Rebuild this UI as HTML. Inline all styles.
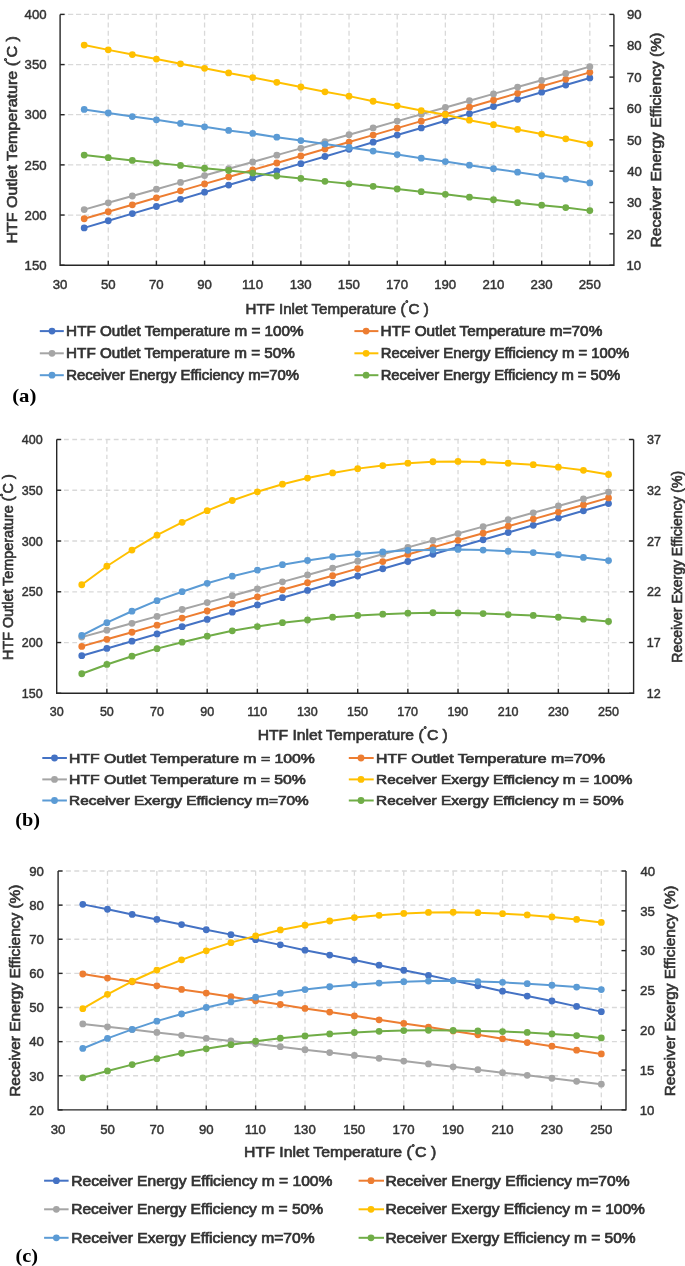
<!DOCTYPE html>
<html><head><meta charset="utf-8"><title>Charts</title>
<style>html,body{margin:0;padding:0;background:#fff;}body{width:685px;height:1266px;overflow:hidden;}svg{display:block;will-change:transform;}</style>
</head><body>
<svg width="685" height="1266" viewBox="0 0 685 1266">
<rect width="685" height="1266" fill="#fff"/>
<line x1="60.10" y1="14.40" x2="613.90" y2="14.40" stroke="#d9d9d9" stroke-width="1.3" stroke-dasharray="5.2,2.75" stroke-dashoffset="0"/>
<line x1="60.10" y1="64.56" x2="613.90" y2="64.56" stroke="#d9d9d9" stroke-width="1.3" stroke-dasharray="5.2,2.75" stroke-dashoffset="0"/>
<line x1="60.10" y1="114.72" x2="613.90" y2="114.72" stroke="#d9d9d9" stroke-width="1.3" stroke-dasharray="5.2,2.75" stroke-dashoffset="0"/>
<line x1="60.10" y1="164.88" x2="613.90" y2="164.88" stroke="#d9d9d9" stroke-width="1.3" stroke-dasharray="5.2,2.75" stroke-dashoffset="0"/>
<line x1="60.10" y1="215.04" x2="613.90" y2="215.04" stroke="#d9d9d9" stroke-width="1.3" stroke-dasharray="5.2,2.75" stroke-dashoffset="0"/>
<line x1="108.26" y1="14.40" x2="108.26" y2="265.20" stroke="#d9d9d9" stroke-width="1.3" stroke-dasharray="5,3.2"/>
<line x1="156.41" y1="14.40" x2="156.41" y2="265.20" stroke="#d9d9d9" stroke-width="1.3" stroke-dasharray="5,3.2"/>
<line x1="204.57" y1="14.40" x2="204.57" y2="265.20" stroke="#d9d9d9" stroke-width="1.3" stroke-dasharray="5,3.2"/>
<line x1="252.73" y1="14.40" x2="252.73" y2="265.20" stroke="#d9d9d9" stroke-width="1.3" stroke-dasharray="5,3.2"/>
<line x1="300.88" y1="14.40" x2="300.88" y2="265.20" stroke="#d9d9d9" stroke-width="1.3" stroke-dasharray="5,3.2"/>
<line x1="349.04" y1="14.40" x2="349.04" y2="265.20" stroke="#d9d9d9" stroke-width="1.3" stroke-dasharray="5,3.2"/>
<line x1="397.20" y1="14.40" x2="397.20" y2="265.20" stroke="#d9d9d9" stroke-width="1.3" stroke-dasharray="5,3.2"/>
<line x1="445.35" y1="14.40" x2="445.35" y2="265.20" stroke="#d9d9d9" stroke-width="1.3" stroke-dasharray="5,3.2"/>
<line x1="493.51" y1="14.40" x2="493.51" y2="265.20" stroke="#d9d9d9" stroke-width="1.3" stroke-dasharray="5,3.2"/>
<line x1="541.67" y1="14.40" x2="541.67" y2="265.20" stroke="#d9d9d9" stroke-width="1.3" stroke-dasharray="5,3.2"/>
<line x1="589.82" y1="14.40" x2="589.82" y2="265.20" stroke="#d9d9d9" stroke-width="1.3" stroke-dasharray="5,3.2"/>
<polyline points="84.18,227.91 108.26,220.76 132.33,213.62 156.41,206.48 180.49,199.34 204.57,192.20 228.65,185.06 252.73,177.92 276.80,170.78 300.88,163.63 324.96,156.49 349.04,149.35 373.12,142.21 397.20,135.07 421.27,127.93 445.35,120.79 469.43,113.65 493.51,106.50 517.59,99.36 541.67,92.22 565.74,85.08 589.82,77.94" fill="none" stroke="#4472C4" stroke-width="2" stroke-linejoin="round"/>
<circle cx="84.18" cy="227.91" r="3.4" fill="#4472C4"/>
<circle cx="108.26" cy="220.76" r="3.4" fill="#4472C4"/>
<circle cx="132.33" cy="213.62" r="3.4" fill="#4472C4"/>
<circle cx="156.41" cy="206.48" r="3.4" fill="#4472C4"/>
<circle cx="180.49" cy="199.34" r="3.4" fill="#4472C4"/>
<circle cx="204.57" cy="192.20" r="3.4" fill="#4472C4"/>
<circle cx="228.65" cy="185.06" r="3.4" fill="#4472C4"/>
<circle cx="252.73" cy="177.92" r="3.4" fill="#4472C4"/>
<circle cx="276.80" cy="170.78" r="3.4" fill="#4472C4"/>
<circle cx="300.88" cy="163.63" r="3.4" fill="#4472C4"/>
<circle cx="324.96" cy="156.49" r="3.4" fill="#4472C4"/>
<circle cx="349.04" cy="149.35" r="3.4" fill="#4472C4"/>
<circle cx="373.12" cy="142.21" r="3.4" fill="#4472C4"/>
<circle cx="397.20" cy="135.07" r="3.4" fill="#4472C4"/>
<circle cx="421.27" cy="127.93" r="3.4" fill="#4472C4"/>
<circle cx="445.35" cy="120.79" r="3.4" fill="#4472C4"/>
<circle cx="469.43" cy="113.65" r="3.4" fill="#4472C4"/>
<circle cx="493.51" cy="106.50" r="3.4" fill="#4472C4"/>
<circle cx="517.59" cy="99.36" r="3.4" fill="#4472C4"/>
<circle cx="541.67" cy="92.22" r="3.4" fill="#4472C4"/>
<circle cx="565.74" cy="85.08" r="3.4" fill="#4472C4"/>
<circle cx="589.82" cy="77.94" r="3.4" fill="#4472C4"/>
<polyline points="84.18,218.74 108.26,211.77 132.33,204.80 156.41,197.83 180.49,190.86 204.57,183.89 228.65,176.92 252.73,169.95 276.80,162.98 300.88,156.01 324.96,149.04 349.04,142.07 373.12,135.10 397.20,128.13 421.27,121.16 445.35,114.19 469.43,107.22 493.51,100.25 517.59,93.28 541.67,86.31 565.74,79.34 589.82,72.37" fill="none" stroke="#ED7D31" stroke-width="2" stroke-linejoin="round"/>
<circle cx="84.18" cy="218.74" r="3.4" fill="#ED7D31"/>
<circle cx="108.26" cy="211.77" r="3.4" fill="#ED7D31"/>
<circle cx="132.33" cy="204.80" r="3.4" fill="#ED7D31"/>
<circle cx="156.41" cy="197.83" r="3.4" fill="#ED7D31"/>
<circle cx="180.49" cy="190.86" r="3.4" fill="#ED7D31"/>
<circle cx="204.57" cy="183.89" r="3.4" fill="#ED7D31"/>
<circle cx="228.65" cy="176.92" r="3.4" fill="#ED7D31"/>
<circle cx="252.73" cy="169.95" r="3.4" fill="#ED7D31"/>
<circle cx="276.80" cy="162.98" r="3.4" fill="#ED7D31"/>
<circle cx="300.88" cy="156.01" r="3.4" fill="#ED7D31"/>
<circle cx="324.96" cy="149.04" r="3.4" fill="#ED7D31"/>
<circle cx="349.04" cy="142.07" r="3.4" fill="#ED7D31"/>
<circle cx="373.12" cy="135.10" r="3.4" fill="#ED7D31"/>
<circle cx="397.20" cy="128.13" r="3.4" fill="#ED7D31"/>
<circle cx="421.27" cy="121.16" r="3.4" fill="#ED7D31"/>
<circle cx="445.35" cy="114.19" r="3.4" fill="#ED7D31"/>
<circle cx="469.43" cy="107.22" r="3.4" fill="#ED7D31"/>
<circle cx="493.51" cy="100.25" r="3.4" fill="#ED7D31"/>
<circle cx="517.59" cy="93.28" r="3.4" fill="#ED7D31"/>
<circle cx="541.67" cy="86.31" r="3.4" fill="#ED7D31"/>
<circle cx="565.74" cy="79.34" r="3.4" fill="#ED7D31"/>
<circle cx="589.82" cy="72.37" r="3.4" fill="#ED7D31"/>
<polyline points="84.18,209.61 108.26,202.80 132.33,196.00 156.41,189.19 180.49,182.38 204.57,175.57 228.65,168.77 252.73,161.96 276.80,155.15 300.88,148.35 324.96,141.54 349.04,134.73 373.12,127.93 397.20,121.12 421.27,114.31 445.35,107.50 469.43,100.70 493.51,93.89 517.59,87.08 541.67,80.28 565.74,73.47 589.82,66.66" fill="none" stroke="#A5A5A5" stroke-width="2" stroke-linejoin="round"/>
<circle cx="84.18" cy="209.61" r="3.4" fill="#A5A5A5"/>
<circle cx="108.26" cy="202.80" r="3.4" fill="#A5A5A5"/>
<circle cx="132.33" cy="196.00" r="3.4" fill="#A5A5A5"/>
<circle cx="156.41" cy="189.19" r="3.4" fill="#A5A5A5"/>
<circle cx="180.49" cy="182.38" r="3.4" fill="#A5A5A5"/>
<circle cx="204.57" cy="175.57" r="3.4" fill="#A5A5A5"/>
<circle cx="228.65" cy="168.77" r="3.4" fill="#A5A5A5"/>
<circle cx="252.73" cy="161.96" r="3.4" fill="#A5A5A5"/>
<circle cx="276.80" cy="155.15" r="3.4" fill="#A5A5A5"/>
<circle cx="300.88" cy="148.35" r="3.4" fill="#A5A5A5"/>
<circle cx="324.96" cy="141.54" r="3.4" fill="#A5A5A5"/>
<circle cx="349.04" cy="134.73" r="3.4" fill="#A5A5A5"/>
<circle cx="373.12" cy="127.93" r="3.4" fill="#A5A5A5"/>
<circle cx="397.20" cy="121.12" r="3.4" fill="#A5A5A5"/>
<circle cx="421.27" cy="114.31" r="3.4" fill="#A5A5A5"/>
<circle cx="445.35" cy="107.50" r="3.4" fill="#A5A5A5"/>
<circle cx="469.43" cy="100.70" r="3.4" fill="#A5A5A5"/>
<circle cx="493.51" cy="93.89" r="3.4" fill="#A5A5A5"/>
<circle cx="517.59" cy="87.08" r="3.4" fill="#A5A5A5"/>
<circle cx="541.67" cy="80.28" r="3.4" fill="#A5A5A5"/>
<circle cx="565.74" cy="73.47" r="3.4" fill="#A5A5A5"/>
<circle cx="589.82" cy="66.66" r="3.4" fill="#A5A5A5"/>
<polyline points="84.18,45.05 108.26,49.86 132.33,54.57 156.41,59.08 180.49,63.80 204.57,68.32 228.65,72.90 252.73,77.58 276.80,82.31 300.88,87.00 324.96,91.84 349.04,96.13 373.12,101.23 397.20,105.83 421.27,110.54 445.35,114.75 469.43,120.16 493.51,124.73 517.59,129.45 541.67,134.08 565.74,138.81 589.82,143.79" fill="none" stroke="#FFC000" stroke-width="2" stroke-linejoin="round"/>
<circle cx="84.18" cy="45.05" r="3.4" fill="#FFC000"/>
<circle cx="108.26" cy="49.86" r="3.4" fill="#FFC000"/>
<circle cx="132.33" cy="54.57" r="3.4" fill="#FFC000"/>
<circle cx="156.41" cy="59.08" r="3.4" fill="#FFC000"/>
<circle cx="180.49" cy="63.80" r="3.4" fill="#FFC000"/>
<circle cx="204.57" cy="68.32" r="3.4" fill="#FFC000"/>
<circle cx="228.65" cy="72.90" r="3.4" fill="#FFC000"/>
<circle cx="252.73" cy="77.58" r="3.4" fill="#FFC000"/>
<circle cx="276.80" cy="82.31" r="3.4" fill="#FFC000"/>
<circle cx="300.88" cy="87.00" r="3.4" fill="#FFC000"/>
<circle cx="324.96" cy="91.84" r="3.4" fill="#FFC000"/>
<circle cx="349.04" cy="96.13" r="3.4" fill="#FFC000"/>
<circle cx="373.12" cy="101.23" r="3.4" fill="#FFC000"/>
<circle cx="397.20" cy="105.83" r="3.4" fill="#FFC000"/>
<circle cx="421.27" cy="110.54" r="3.4" fill="#FFC000"/>
<circle cx="445.35" cy="114.75" r="3.4" fill="#FFC000"/>
<circle cx="469.43" cy="120.16" r="3.4" fill="#FFC000"/>
<circle cx="493.51" cy="124.73" r="3.4" fill="#FFC000"/>
<circle cx="517.59" cy="129.45" r="3.4" fill="#FFC000"/>
<circle cx="541.67" cy="134.08" r="3.4" fill="#FFC000"/>
<circle cx="565.74" cy="138.81" r="3.4" fill="#FFC000"/>
<circle cx="589.82" cy="143.79" r="3.4" fill="#FFC000"/>
<polyline points="84.18,109.45 108.26,113.01 132.33,116.57 156.41,119.84 180.49,123.41 204.57,126.83 228.65,130.41 252.73,133.44 276.80,137.17 300.88,140.61 324.96,144.05 349.04,147.49 373.12,151.09 397.20,154.54 421.27,158.15 445.35,161.60 469.43,165.21 493.51,168.68 517.59,172.14 541.67,175.76 565.74,179.09 589.82,182.96" fill="none" stroke="#5B9BD5" stroke-width="2" stroke-linejoin="round"/>
<circle cx="84.18" cy="109.45" r="3.4" fill="#5B9BD5"/>
<circle cx="108.26" cy="113.01" r="3.4" fill="#5B9BD5"/>
<circle cx="132.33" cy="116.57" r="3.4" fill="#5B9BD5"/>
<circle cx="156.41" cy="119.84" r="3.4" fill="#5B9BD5"/>
<circle cx="180.49" cy="123.41" r="3.4" fill="#5B9BD5"/>
<circle cx="204.57" cy="126.83" r="3.4" fill="#5B9BD5"/>
<circle cx="228.65" cy="130.41" r="3.4" fill="#5B9BD5"/>
<circle cx="252.73" cy="133.44" r="3.4" fill="#5B9BD5"/>
<circle cx="276.80" cy="137.17" r="3.4" fill="#5B9BD5"/>
<circle cx="300.88" cy="140.61" r="3.4" fill="#5B9BD5"/>
<circle cx="324.96" cy="144.05" r="3.4" fill="#5B9BD5"/>
<circle cx="349.04" cy="147.49" r="3.4" fill="#5B9BD5"/>
<circle cx="373.12" cy="151.09" r="3.4" fill="#5B9BD5"/>
<circle cx="397.20" cy="154.54" r="3.4" fill="#5B9BD5"/>
<circle cx="421.27" cy="158.15" r="3.4" fill="#5B9BD5"/>
<circle cx="445.35" cy="161.60" r="3.4" fill="#5B9BD5"/>
<circle cx="469.43" cy="165.21" r="3.4" fill="#5B9BD5"/>
<circle cx="493.51" cy="168.68" r="3.4" fill="#5B9BD5"/>
<circle cx="517.59" cy="172.14" r="3.4" fill="#5B9BD5"/>
<circle cx="541.67" cy="175.76" r="3.4" fill="#5B9BD5"/>
<circle cx="565.74" cy="179.09" r="3.4" fill="#5B9BD5"/>
<circle cx="589.82" cy="182.96" r="3.4" fill="#5B9BD5"/>
<polyline points="84.18,155.07 108.26,157.71 132.33,160.44 156.41,162.89 180.49,165.38 204.57,168.23 228.65,170.48 252.73,173.09 276.80,176.00 300.88,178.46 324.96,181.37 349.04,183.84 373.12,186.36 397.20,188.99 421.27,191.67 445.35,194.30 469.43,197.19 493.51,199.73 517.59,202.67 541.67,205.16 565.74,207.56 589.82,210.62" fill="none" stroke="#70AD47" stroke-width="2" stroke-linejoin="round"/>
<circle cx="84.18" cy="155.07" r="3.4" fill="#70AD47"/>
<circle cx="108.26" cy="157.71" r="3.4" fill="#70AD47"/>
<circle cx="132.33" cy="160.44" r="3.4" fill="#70AD47"/>
<circle cx="156.41" cy="162.89" r="3.4" fill="#70AD47"/>
<circle cx="180.49" cy="165.38" r="3.4" fill="#70AD47"/>
<circle cx="204.57" cy="168.23" r="3.4" fill="#70AD47"/>
<circle cx="228.65" cy="170.48" r="3.4" fill="#70AD47"/>
<circle cx="252.73" cy="173.09" r="3.4" fill="#70AD47"/>
<circle cx="276.80" cy="176.00" r="3.4" fill="#70AD47"/>
<circle cx="300.88" cy="178.46" r="3.4" fill="#70AD47"/>
<circle cx="324.96" cy="181.37" r="3.4" fill="#70AD47"/>
<circle cx="349.04" cy="183.84" r="3.4" fill="#70AD47"/>
<circle cx="373.12" cy="186.36" r="3.4" fill="#70AD47"/>
<circle cx="397.20" cy="188.99" r="3.4" fill="#70AD47"/>
<circle cx="421.27" cy="191.67" r="3.4" fill="#70AD47"/>
<circle cx="445.35" cy="194.30" r="3.4" fill="#70AD47"/>
<circle cx="469.43" cy="197.19" r="3.4" fill="#70AD47"/>
<circle cx="493.51" cy="199.73" r="3.4" fill="#70AD47"/>
<circle cx="517.59" cy="202.67" r="3.4" fill="#70AD47"/>
<circle cx="541.67" cy="205.16" r="3.4" fill="#70AD47"/>
<circle cx="565.74" cy="207.56" r="3.4" fill="#70AD47"/>
<circle cx="589.82" cy="210.62" r="3.4" fill="#70AD47"/>
<path d="M60.10,14.40V265.20H613.90V14.40" fill="none" stroke="#262626" stroke-width="1.4"/>
<line x1="60.10" y1="14.40" x2="64.60" y2="14.40" stroke="#262626" stroke-width="1.4"/>
<line x1="60.10" y1="64.56" x2="64.60" y2="64.56" stroke="#262626" stroke-width="1.4"/>
<line x1="60.10" y1="114.72" x2="64.60" y2="114.72" stroke="#262626" stroke-width="1.4"/>
<line x1="60.10" y1="164.88" x2="64.60" y2="164.88" stroke="#262626" stroke-width="1.4"/>
<line x1="60.10" y1="215.04" x2="64.60" y2="215.04" stroke="#262626" stroke-width="1.4"/>
<line x1="60.10" y1="265.20" x2="64.60" y2="265.20" stroke="#262626" stroke-width="1.4"/>
<line x1="609.40" y1="14.40" x2="613.90" y2="14.40" stroke="#262626" stroke-width="1.4"/>
<line x1="609.40" y1="45.75" x2="613.90" y2="45.75" stroke="#262626" stroke-width="1.4"/>
<line x1="609.40" y1="77.10" x2="613.90" y2="77.10" stroke="#262626" stroke-width="1.4"/>
<line x1="609.40" y1="108.45" x2="613.90" y2="108.45" stroke="#262626" stroke-width="1.4"/>
<line x1="609.40" y1="139.80" x2="613.90" y2="139.80" stroke="#262626" stroke-width="1.4"/>
<line x1="609.40" y1="171.15" x2="613.90" y2="171.15" stroke="#262626" stroke-width="1.4"/>
<line x1="609.40" y1="202.50" x2="613.90" y2="202.50" stroke="#262626" stroke-width="1.4"/>
<line x1="609.40" y1="233.85" x2="613.90" y2="233.85" stroke="#262626" stroke-width="1.4"/>
<line x1="609.40" y1="265.20" x2="613.90" y2="265.20" stroke="#262626" stroke-width="1.4"/>
<line x1="108.26" y1="265.20" x2="108.26" y2="260.70" stroke="#262626" stroke-width="1.4"/>
<line x1="156.41" y1="265.20" x2="156.41" y2="260.70" stroke="#262626" stroke-width="1.4"/>
<line x1="204.57" y1="265.20" x2="204.57" y2="260.70" stroke="#262626" stroke-width="1.4"/>
<line x1="252.73" y1="265.20" x2="252.73" y2="260.70" stroke="#262626" stroke-width="1.4"/>
<line x1="300.88" y1="265.20" x2="300.88" y2="260.70" stroke="#262626" stroke-width="1.4"/>
<line x1="349.04" y1="265.20" x2="349.04" y2="260.70" stroke="#262626" stroke-width="1.4"/>
<line x1="397.20" y1="265.20" x2="397.20" y2="260.70" stroke="#262626" stroke-width="1.4"/>
<line x1="445.35" y1="265.20" x2="445.35" y2="260.70" stroke="#262626" stroke-width="1.4"/>
<line x1="493.51" y1="265.20" x2="493.51" y2="260.70" stroke="#262626" stroke-width="1.4"/>
<line x1="541.67" y1="265.20" x2="541.67" y2="260.70" stroke="#262626" stroke-width="1.4"/>
<line x1="589.82" y1="265.20" x2="589.82" y2="260.70" stroke="#262626" stroke-width="1.4"/>
<text x="24.62" y="19.13" font-family='"Liberation Sans", sans-serif' font-weight="normal" font-size="13.2" fill="#333333" stroke="#333333" stroke-width="0.45">400</text>
<text x="24.62" y="69.29" font-family='"Liberation Sans", sans-serif' font-weight="normal" font-size="13.2" fill="#333333" stroke="#333333" stroke-width="0.45">350</text>
<text x="24.62" y="119.45" font-family='"Liberation Sans", sans-serif' font-weight="normal" font-size="13.2" fill="#333333" stroke="#333333" stroke-width="0.45">300</text>
<text x="24.62" y="169.61" font-family='"Liberation Sans", sans-serif' font-weight="normal" font-size="13.2" fill="#333333" stroke="#333333" stroke-width="0.45">250</text>
<text x="24.62" y="219.77" font-family='"Liberation Sans", sans-serif' font-weight="normal" font-size="13.2" fill="#333333" stroke="#333333" stroke-width="0.45">200</text>
<text x="24.62" y="269.93" font-family='"Liberation Sans", sans-serif' font-weight="normal" font-size="13.2" fill="#333333" stroke="#333333" stroke-width="0.45">150</text>
<text x="626.93" y="19.13" font-family='"Liberation Sans", sans-serif' font-weight="normal" font-size="13.2" fill="#333333" stroke="#333333" stroke-width="0.45">90</text>
<text x="626.93" y="50.48" font-family='"Liberation Sans", sans-serif' font-weight="normal" font-size="13.2" fill="#333333" stroke="#333333" stroke-width="0.45">80</text>
<text x="626.87" y="81.83" font-family='"Liberation Sans", sans-serif' font-weight="normal" font-size="13.2" fill="#333333" stroke="#333333" stroke-width="0.45">70</text>
<text x="626.87" y="113.18" font-family='"Liberation Sans", sans-serif' font-weight="normal" font-size="13.2" fill="#333333" stroke="#333333" stroke-width="0.45">60</text>
<text x="627.00" y="144.53" font-family='"Liberation Sans", sans-serif' font-weight="normal" font-size="13.2" fill="#333333" stroke="#333333" stroke-width="0.45">50</text>
<text x="627.19" y="175.88" font-family='"Liberation Sans", sans-serif' font-weight="normal" font-size="13.2" fill="#333333" stroke="#333333" stroke-width="0.45">40</text>
<text x="627.00" y="207.23" font-family='"Liberation Sans", sans-serif' font-weight="normal" font-size="13.2" fill="#333333" stroke="#333333" stroke-width="0.45">30</text>
<text x="626.87" y="238.58" font-family='"Liberation Sans", sans-serif' font-weight="normal" font-size="13.2" fill="#333333" stroke="#333333" stroke-width="0.45">20</text>
<text x="626.53" y="269.93" font-family='"Liberation Sans", sans-serif' font-weight="normal" font-size="13.2" fill="#333333" stroke="#333333" stroke-width="0.45">10</text>
<text x="52.77" y="289.33" font-family='"Liberation Sans", sans-serif' font-weight="normal" font-size="13.2" fill="#333333" stroke="#333333" stroke-width="0.45">30</text>
<text x="100.93" y="289.33" font-family='"Liberation Sans", sans-serif' font-weight="normal" font-size="13.2" fill="#333333" stroke="#333333" stroke-width="0.45">50</text>
<text x="149.02" y="289.33" font-family='"Liberation Sans", sans-serif' font-weight="normal" font-size="13.2" fill="#333333" stroke="#333333" stroke-width="0.45">70</text>
<text x="197.21" y="289.33" font-family='"Liberation Sans", sans-serif' font-weight="normal" font-size="13.2" fill="#333333" stroke="#333333" stroke-width="0.45">90</text>
<text x="241.97" y="289.33" font-family='"Liberation Sans", sans-serif' font-weight="normal" font-size="13.2" fill="#333333" stroke="#333333" stroke-width="0.45">110</text>
<text x="289.66" y="289.33" font-family='"Liberation Sans", sans-serif' font-weight="normal" font-size="13.2" fill="#333333" stroke="#333333" stroke-width="0.45">130</text>
<text x="337.82" y="289.33" font-family='"Liberation Sans", sans-serif' font-weight="normal" font-size="13.2" fill="#333333" stroke="#333333" stroke-width="0.45">150</text>
<text x="385.98" y="289.33" font-family='"Liberation Sans", sans-serif' font-weight="normal" font-size="13.2" fill="#333333" stroke="#333333" stroke-width="0.45">170</text>
<text x="434.13" y="289.33" font-family='"Liberation Sans", sans-serif' font-weight="normal" font-size="13.2" fill="#333333" stroke="#333333" stroke-width="0.45">190</text>
<text x="482.45" y="289.33" font-family='"Liberation Sans", sans-serif' font-weight="normal" font-size="13.2" fill="#333333" stroke="#333333" stroke-width="0.45">210</text>
<text x="530.61" y="289.33" font-family='"Liberation Sans", sans-serif' font-weight="normal" font-size="13.2" fill="#333333" stroke="#333333" stroke-width="0.45">230</text>
<text x="578.77" y="289.33" font-family='"Liberation Sans", sans-serif' font-weight="normal" font-size="13.2" fill="#333333" stroke="#333333" stroke-width="0.45">250</text>
<text x="245.49" y="313.60" font-family='"Liberation Sans", sans-serif' font-weight="normal" font-size="13.8" fill="#333333" stroke="#333333" stroke-width="0.6" textLength="183.26" lengthAdjust="spacingAndGlyphs">HTF Inlet Temperature (<tspan font-size="8.56" dy="-5.11">˚</tspan><tspan dy="5.11">C )</tspan></text>
<text transform="translate(17.30,243.58) rotate(-90)" x="0" y="0" font-family='"Liberation Sans", sans-serif' font-weight="normal" font-size="13.8" fill="#333333" stroke="#333333" stroke-width="0.6" textLength="207.40" lengthAdjust="spacingAndGlyphs">HTF Outlet Temperature (<tspan font-size="8.56" dy="-5.11">˚</tspan><tspan dy="5.11">C )</tspan></text>
<text transform="translate(661.00,247.55) rotate(-90)" x="0" y="0" font-family='"Liberation Sans", sans-serif' font-weight="normal" font-size="13.8" fill="#333333" stroke="#333333" stroke-width="0.6" textLength="214.96" lengthAdjust="spacingAndGlyphs">Receiver Energy Efficiency (%)</text>
<line x1="39.80" y1="331.10" x2="63.80" y2="331.10" stroke="#4472C4" stroke-width="2"/>
<circle cx="52.00" cy="331.10" r="3.4" fill="#4472C4"/>
<text x="66.13" y="336.11" font-family='"Liberation Sans", sans-serif' font-weight="normal" font-size="14.0" fill="#333333" stroke="#333333" stroke-width="0.7" textLength="237.48" lengthAdjust="spacingAndGlyphs">HTF Outlet Temperature m = 100%</text>
<line x1="354.40" y1="331.10" x2="378.40" y2="331.10" stroke="#ED7D31" stroke-width="2"/>
<circle cx="366.10" cy="331.10" r="3.4" fill="#ED7D31"/>
<text x="380.62" y="336.11" font-family='"Liberation Sans", sans-serif' font-weight="normal" font-size="14.0" fill="#333333" stroke="#333333" stroke-width="0.7" textLength="221.66" lengthAdjust="spacingAndGlyphs">HTF Outlet Temperature m=70%</text>
<line x1="39.80" y1="353.30" x2="63.80" y2="353.30" stroke="#A5A5A5" stroke-width="2"/>
<circle cx="52.00" cy="353.30" r="3.4" fill="#A5A5A5"/>
<text x="66.13" y="358.31" font-family='"Liberation Sans", sans-serif' font-weight="normal" font-size="14.0" fill="#333333" stroke="#333333" stroke-width="0.7" textLength="228.66" lengthAdjust="spacingAndGlyphs">HTF Outlet Temperature m = 50%</text>
<line x1="354.40" y1="353.30" x2="378.40" y2="353.30" stroke="#FFC000" stroke-width="2"/>
<circle cx="366.10" cy="353.30" r="3.4" fill="#FFC000"/>
<text x="380.66" y="358.31" font-family='"Liberation Sans", sans-serif' font-weight="normal" font-size="14.0" fill="#333333" stroke="#333333" stroke-width="0.7" textLength="248.50" lengthAdjust="spacingAndGlyphs">Receiver Energy Efficiency m = 100%</text>
<line x1="39.80" y1="375.20" x2="63.80" y2="375.20" stroke="#5B9BD5" stroke-width="2"/>
<circle cx="52.00" cy="375.20" r="3.4" fill="#5B9BD5"/>
<text x="66.16" y="380.21" font-family='"Liberation Sans", sans-serif' font-weight="normal" font-size="14.0" fill="#333333" stroke="#333333" stroke-width="0.7" textLength="232.98" lengthAdjust="spacingAndGlyphs">Receiver Energy Efficiency m=70%</text>
<line x1="354.40" y1="375.20" x2="378.40" y2="375.20" stroke="#70AD47" stroke-width="2"/>
<circle cx="366.10" cy="375.20" r="3.4" fill="#70AD47"/>
<text x="380.67" y="380.21" font-family='"Liberation Sans", sans-serif' font-weight="normal" font-size="14.0" fill="#333333" stroke="#333333" stroke-width="0.7" textLength="239.58" lengthAdjust="spacingAndGlyphs">Receiver Energy Efficiency m = 50%</text>
<text x="12.17" y="402.00" font-family='"Liberation Serif", serif' font-weight="bold" font-size="19" fill="#000" textLength="24.19" lengthAdjust="spacingAndGlyphs">(a)</text>
<line x1="56.70" y1="439.50" x2="633.60" y2="439.50" stroke="#d9d9d9" stroke-width="1.3" stroke-dasharray="4.8,3.5" stroke-dashoffset="1.0"/>
<line x1="56.70" y1="490.26" x2="633.60" y2="490.26" stroke="#d9d9d9" stroke-width="1.3" stroke-dasharray="4.8,3.5" stroke-dashoffset="1.0"/>
<line x1="56.70" y1="541.02" x2="633.60" y2="541.02" stroke="#d9d9d9" stroke-width="1.3" stroke-dasharray="4.8,3.5" stroke-dashoffset="1.0"/>
<line x1="56.70" y1="591.78" x2="633.60" y2="591.78" stroke="#d9d9d9" stroke-width="1.3" stroke-dasharray="4.8,3.5" stroke-dashoffset="1.0"/>
<line x1="56.70" y1="642.54" x2="633.60" y2="642.54" stroke="#d9d9d9" stroke-width="1.3" stroke-dasharray="4.8,3.5" stroke-dashoffset="1.0"/>
<line x1="106.87" y1="439.50" x2="106.87" y2="693.30" stroke="#d9d9d9" stroke-width="1.3" stroke-dasharray="4.3,3.3"/>
<line x1="157.03" y1="439.50" x2="157.03" y2="693.30" stroke="#d9d9d9" stroke-width="1.3" stroke-dasharray="4.3,3.3"/>
<line x1="207.20" y1="439.50" x2="207.20" y2="693.30" stroke="#d9d9d9" stroke-width="1.3" stroke-dasharray="4.3,3.3"/>
<line x1="257.36" y1="439.50" x2="257.36" y2="693.30" stroke="#d9d9d9" stroke-width="1.3" stroke-dasharray="4.3,3.3"/>
<line x1="307.53" y1="439.50" x2="307.53" y2="693.30" stroke="#d9d9d9" stroke-width="1.3" stroke-dasharray="4.3,3.3"/>
<line x1="357.69" y1="439.50" x2="357.69" y2="693.30" stroke="#d9d9d9" stroke-width="1.3" stroke-dasharray="4.3,3.3"/>
<line x1="407.86" y1="439.50" x2="407.86" y2="693.30" stroke="#d9d9d9" stroke-width="1.3" stroke-dasharray="4.3,3.3"/>
<line x1="458.02" y1="439.50" x2="458.02" y2="693.30" stroke="#d9d9d9" stroke-width="1.3" stroke-dasharray="4.3,3.3"/>
<line x1="508.19" y1="439.50" x2="508.19" y2="693.30" stroke="#d9d9d9" stroke-width="1.3" stroke-dasharray="4.3,3.3"/>
<line x1="558.35" y1="439.50" x2="558.35" y2="693.30" stroke="#d9d9d9" stroke-width="1.3" stroke-dasharray="4.3,3.3"/>
<line x1="608.52" y1="439.50" x2="608.52" y2="693.30" stroke="#d9d9d9" stroke-width="1.3" stroke-dasharray="4.3,3.3"/>
<polyline points="81.78,655.67 106.87,648.43 131.95,641.18 157.03,633.94 182.11,626.70 207.20,619.45 232.28,612.21 257.36,604.96 282.44,597.72 307.53,590.47 332.61,583.23 357.69,575.99 382.77,568.74 407.86,561.50 432.94,554.25 458.02,547.01 483.10,539.77 508.19,532.52 533.27,525.28 558.35,518.03 583.43,510.79 608.52,503.55" fill="none" stroke="#4472C4" stroke-width="2" stroke-linejoin="round"/>
<circle cx="81.78" cy="655.67" r="3.4" fill="#4472C4"/>
<circle cx="106.87" cy="648.43" r="3.4" fill="#4472C4"/>
<circle cx="131.95" cy="641.18" r="3.4" fill="#4472C4"/>
<circle cx="157.03" cy="633.94" r="3.4" fill="#4472C4"/>
<circle cx="182.11" cy="626.70" r="3.4" fill="#4472C4"/>
<circle cx="207.20" cy="619.45" r="3.4" fill="#4472C4"/>
<circle cx="232.28" cy="612.21" r="3.4" fill="#4472C4"/>
<circle cx="257.36" cy="604.96" r="3.4" fill="#4472C4"/>
<circle cx="282.44" cy="597.72" r="3.4" fill="#4472C4"/>
<circle cx="307.53" cy="590.47" r="3.4" fill="#4472C4"/>
<circle cx="332.61" cy="583.23" r="3.4" fill="#4472C4"/>
<circle cx="357.69" cy="575.99" r="3.4" fill="#4472C4"/>
<circle cx="382.77" cy="568.74" r="3.4" fill="#4472C4"/>
<circle cx="407.86" cy="561.50" r="3.4" fill="#4472C4"/>
<circle cx="432.94" cy="554.25" r="3.4" fill="#4472C4"/>
<circle cx="458.02" cy="547.01" r="3.4" fill="#4472C4"/>
<circle cx="483.10" cy="539.77" r="3.4" fill="#4472C4"/>
<circle cx="508.19" cy="532.52" r="3.4" fill="#4472C4"/>
<circle cx="533.27" cy="525.28" r="3.4" fill="#4472C4"/>
<circle cx="558.35" cy="518.03" r="3.4" fill="#4472C4"/>
<circle cx="583.43" cy="510.79" r="3.4" fill="#4472C4"/>
<circle cx="608.52" cy="503.55" r="3.4" fill="#4472C4"/>
<polyline points="81.78,646.38 106.87,639.31 131.95,632.24 157.03,625.16 182.11,618.09 207.20,611.02 232.28,603.95 257.36,596.88 282.44,589.81 307.53,582.74 332.61,575.67 357.69,568.60 382.77,561.53 407.86,554.46 432.94,547.39 458.02,540.32 483.10,533.25 508.19,526.18 533.27,519.10 558.35,512.03 583.43,504.96 608.52,497.89" fill="none" stroke="#ED7D31" stroke-width="2" stroke-linejoin="round"/>
<circle cx="81.78" cy="646.38" r="3.4" fill="#ED7D31"/>
<circle cx="106.87" cy="639.31" r="3.4" fill="#ED7D31"/>
<circle cx="131.95" cy="632.24" r="3.4" fill="#ED7D31"/>
<circle cx="157.03" cy="625.16" r="3.4" fill="#ED7D31"/>
<circle cx="182.11" cy="618.09" r="3.4" fill="#ED7D31"/>
<circle cx="207.20" cy="611.02" r="3.4" fill="#ED7D31"/>
<circle cx="232.28" cy="603.95" r="3.4" fill="#ED7D31"/>
<circle cx="257.36" cy="596.88" r="3.4" fill="#ED7D31"/>
<circle cx="282.44" cy="589.81" r="3.4" fill="#ED7D31"/>
<circle cx="307.53" cy="582.74" r="3.4" fill="#ED7D31"/>
<circle cx="332.61" cy="575.67" r="3.4" fill="#ED7D31"/>
<circle cx="357.69" cy="568.60" r="3.4" fill="#ED7D31"/>
<circle cx="382.77" cy="561.53" r="3.4" fill="#ED7D31"/>
<circle cx="407.86" cy="554.46" r="3.4" fill="#ED7D31"/>
<circle cx="432.94" cy="547.39" r="3.4" fill="#ED7D31"/>
<circle cx="458.02" cy="540.32" r="3.4" fill="#ED7D31"/>
<circle cx="483.10" cy="533.25" r="3.4" fill="#ED7D31"/>
<circle cx="508.19" cy="526.18" r="3.4" fill="#ED7D31"/>
<circle cx="533.27" cy="519.10" r="3.4" fill="#ED7D31"/>
<circle cx="558.35" cy="512.03" r="3.4" fill="#ED7D31"/>
<circle cx="583.43" cy="504.96" r="3.4" fill="#ED7D31"/>
<circle cx="608.52" cy="497.89" r="3.4" fill="#ED7D31"/>
<polyline points="81.78,637.11 106.87,630.21 131.95,623.30 157.03,616.40 182.11,609.49 207.20,602.59 232.28,595.68 257.36,588.78 282.44,581.87 307.53,574.97 332.61,568.06 357.69,561.16 382.77,554.25 407.86,547.35 432.94,540.44 458.02,533.54 483.10,526.63 508.19,519.73 533.27,512.82 558.35,505.92 583.43,499.01 608.52,492.11" fill="none" stroke="#A5A5A5" stroke-width="2" stroke-linejoin="round"/>
<circle cx="81.78" cy="637.11" r="3.4" fill="#A5A5A5"/>
<circle cx="106.87" cy="630.21" r="3.4" fill="#A5A5A5"/>
<circle cx="131.95" cy="623.30" r="3.4" fill="#A5A5A5"/>
<circle cx="157.03" cy="616.40" r="3.4" fill="#A5A5A5"/>
<circle cx="182.11" cy="609.49" r="3.4" fill="#A5A5A5"/>
<circle cx="207.20" cy="602.59" r="3.4" fill="#A5A5A5"/>
<circle cx="232.28" cy="595.68" r="3.4" fill="#A5A5A5"/>
<circle cx="257.36" cy="588.78" r="3.4" fill="#A5A5A5"/>
<circle cx="282.44" cy="581.87" r="3.4" fill="#A5A5A5"/>
<circle cx="307.53" cy="574.97" r="3.4" fill="#A5A5A5"/>
<circle cx="332.61" cy="568.06" r="3.4" fill="#A5A5A5"/>
<circle cx="357.69" cy="561.16" r="3.4" fill="#A5A5A5"/>
<circle cx="382.77" cy="554.25" r="3.4" fill="#A5A5A5"/>
<circle cx="407.86" cy="547.35" r="3.4" fill="#A5A5A5"/>
<circle cx="432.94" cy="540.44" r="3.4" fill="#A5A5A5"/>
<circle cx="458.02" cy="533.54" r="3.4" fill="#A5A5A5"/>
<circle cx="483.10" cy="526.63" r="3.4" fill="#A5A5A5"/>
<circle cx="508.19" cy="519.73" r="3.4" fill="#A5A5A5"/>
<circle cx="533.27" cy="512.82" r="3.4" fill="#A5A5A5"/>
<circle cx="558.35" cy="505.92" r="3.4" fill="#A5A5A5"/>
<circle cx="583.43" cy="499.01" r="3.4" fill="#A5A5A5"/>
<circle cx="608.52" cy="492.11" r="3.4" fill="#A5A5A5"/>
<polyline points="81.78,584.74 106.87,566.24 131.95,550.03 157.03,535.18 182.11,522.35 207.20,510.68 232.28,500.48 257.36,491.80 282.44,484.21 307.53,478.05 332.61,472.95 357.69,468.63 382.77,465.60 407.86,463.19 432.94,461.73 458.02,461.38 483.10,461.94 508.19,463.14 533.27,464.71 558.35,467.13 583.43,470.34 608.52,474.49" fill="none" stroke="#FFC000" stroke-width="2" stroke-linejoin="round"/>
<circle cx="81.78" cy="584.74" r="3.4" fill="#FFC000"/>
<circle cx="106.87" cy="566.24" r="3.4" fill="#FFC000"/>
<circle cx="131.95" cy="550.03" r="3.4" fill="#FFC000"/>
<circle cx="157.03" cy="535.18" r="3.4" fill="#FFC000"/>
<circle cx="182.11" cy="522.35" r="3.4" fill="#FFC000"/>
<circle cx="207.20" cy="510.68" r="3.4" fill="#FFC000"/>
<circle cx="232.28" cy="500.48" r="3.4" fill="#FFC000"/>
<circle cx="257.36" cy="491.80" r="3.4" fill="#FFC000"/>
<circle cx="282.44" cy="484.21" r="3.4" fill="#FFC000"/>
<circle cx="307.53" cy="478.05" r="3.4" fill="#FFC000"/>
<circle cx="332.61" cy="472.95" r="3.4" fill="#FFC000"/>
<circle cx="357.69" cy="468.63" r="3.4" fill="#FFC000"/>
<circle cx="382.77" cy="465.60" r="3.4" fill="#FFC000"/>
<circle cx="407.86" cy="463.19" r="3.4" fill="#FFC000"/>
<circle cx="432.94" cy="461.73" r="3.4" fill="#FFC000"/>
<circle cx="458.02" cy="461.38" r="3.4" fill="#FFC000"/>
<circle cx="483.10" cy="461.94" r="3.4" fill="#FFC000"/>
<circle cx="508.19" cy="463.14" r="3.4" fill="#FFC000"/>
<circle cx="533.27" cy="464.71" r="3.4" fill="#FFC000"/>
<circle cx="558.35" cy="467.13" r="3.4" fill="#FFC000"/>
<circle cx="583.43" cy="470.34" r="3.4" fill="#FFC000"/>
<circle cx="608.52" cy="474.49" r="3.4" fill="#FFC000"/>
<polyline points="81.78,635.49 106.87,622.65 131.95,611.22 157.03,600.64 182.11,591.72 207.20,583.29 232.28,576.16 257.36,570.17 282.44,564.64 307.53,560.48 332.61,556.74 357.69,553.98 382.77,551.88 407.86,550.28 432.94,549.90 458.02,549.44 483.10,550.07 508.19,551.23 533.27,552.53 558.35,554.74 583.43,557.46 608.52,560.60" fill="none" stroke="#5B9BD5" stroke-width="2" stroke-linejoin="round"/>
<circle cx="81.78" cy="635.49" r="3.4" fill="#5B9BD5"/>
<circle cx="106.87" cy="622.65" r="3.4" fill="#5B9BD5"/>
<circle cx="131.95" cy="611.22" r="3.4" fill="#5B9BD5"/>
<circle cx="157.03" cy="600.64" r="3.4" fill="#5B9BD5"/>
<circle cx="182.11" cy="591.72" r="3.4" fill="#5B9BD5"/>
<circle cx="207.20" cy="583.29" r="3.4" fill="#5B9BD5"/>
<circle cx="232.28" cy="576.16" r="3.4" fill="#5B9BD5"/>
<circle cx="257.36" cy="570.17" r="3.4" fill="#5B9BD5"/>
<circle cx="282.44" cy="564.64" r="3.4" fill="#5B9BD5"/>
<circle cx="307.53" cy="560.48" r="3.4" fill="#5B9BD5"/>
<circle cx="332.61" cy="556.74" r="3.4" fill="#5B9BD5"/>
<circle cx="357.69" cy="553.98" r="3.4" fill="#5B9BD5"/>
<circle cx="382.77" cy="551.88" r="3.4" fill="#5B9BD5"/>
<circle cx="407.86" cy="550.28" r="3.4" fill="#5B9BD5"/>
<circle cx="432.94" cy="549.90" r="3.4" fill="#5B9BD5"/>
<circle cx="458.02" cy="549.44" r="3.4" fill="#5B9BD5"/>
<circle cx="483.10" cy="550.07" r="3.4" fill="#5B9BD5"/>
<circle cx="508.19" cy="551.23" r="3.4" fill="#5B9BD5"/>
<circle cx="533.27" cy="552.53" r="3.4" fill="#5B9BD5"/>
<circle cx="558.35" cy="554.74" r="3.4" fill="#5B9BD5"/>
<circle cx="583.43" cy="557.46" r="3.4" fill="#5B9BD5"/>
<circle cx="608.52" cy="560.60" r="3.4" fill="#5B9BD5"/>
<polyline points="81.78,673.76 106.87,664.47 131.95,656.20 157.03,648.65 182.11,642.16 207.20,636.21 232.28,630.84 257.36,626.53 282.44,622.72 307.53,619.98 332.61,617.19 357.69,615.45 382.77,614.13 407.86,613.16 432.94,612.73 458.02,612.93 483.10,613.58 508.19,614.53 533.27,615.41 558.35,617.27 583.43,619.20 608.52,621.49" fill="none" stroke="#70AD47" stroke-width="2" stroke-linejoin="round"/>
<circle cx="81.78" cy="673.76" r="3.4" fill="#70AD47"/>
<circle cx="106.87" cy="664.47" r="3.4" fill="#70AD47"/>
<circle cx="131.95" cy="656.20" r="3.4" fill="#70AD47"/>
<circle cx="157.03" cy="648.65" r="3.4" fill="#70AD47"/>
<circle cx="182.11" cy="642.16" r="3.4" fill="#70AD47"/>
<circle cx="207.20" cy="636.21" r="3.4" fill="#70AD47"/>
<circle cx="232.28" cy="630.84" r="3.4" fill="#70AD47"/>
<circle cx="257.36" cy="626.53" r="3.4" fill="#70AD47"/>
<circle cx="282.44" cy="622.72" r="3.4" fill="#70AD47"/>
<circle cx="307.53" cy="619.98" r="3.4" fill="#70AD47"/>
<circle cx="332.61" cy="617.19" r="3.4" fill="#70AD47"/>
<circle cx="357.69" cy="615.45" r="3.4" fill="#70AD47"/>
<circle cx="382.77" cy="614.13" r="3.4" fill="#70AD47"/>
<circle cx="407.86" cy="613.16" r="3.4" fill="#70AD47"/>
<circle cx="432.94" cy="612.73" r="3.4" fill="#70AD47"/>
<circle cx="458.02" cy="612.93" r="3.4" fill="#70AD47"/>
<circle cx="483.10" cy="613.58" r="3.4" fill="#70AD47"/>
<circle cx="508.19" cy="614.53" r="3.4" fill="#70AD47"/>
<circle cx="533.27" cy="615.41" r="3.4" fill="#70AD47"/>
<circle cx="558.35" cy="617.27" r="3.4" fill="#70AD47"/>
<circle cx="583.43" cy="619.20" r="3.4" fill="#70AD47"/>
<circle cx="608.52" cy="621.49" r="3.4" fill="#70AD47"/>
<path d="M56.70,439.50V693.30H633.60V439.50" fill="none" stroke="#262626" stroke-width="1.4"/>
<line x1="56.70" y1="439.50" x2="61.20" y2="439.50" stroke="#262626" stroke-width="1.4"/>
<line x1="56.70" y1="490.26" x2="61.20" y2="490.26" stroke="#262626" stroke-width="1.4"/>
<line x1="56.70" y1="541.02" x2="61.20" y2="541.02" stroke="#262626" stroke-width="1.4"/>
<line x1="56.70" y1="591.78" x2="61.20" y2="591.78" stroke="#262626" stroke-width="1.4"/>
<line x1="56.70" y1="642.54" x2="61.20" y2="642.54" stroke="#262626" stroke-width="1.4"/>
<line x1="56.70" y1="693.30" x2="61.20" y2="693.30" stroke="#262626" stroke-width="1.4"/>
<line x1="629.10" y1="439.50" x2="633.60" y2="439.50" stroke="#262626" stroke-width="1.4"/>
<line x1="629.10" y1="490.26" x2="633.60" y2="490.26" stroke="#262626" stroke-width="1.4"/>
<line x1="629.10" y1="541.02" x2="633.60" y2="541.02" stroke="#262626" stroke-width="1.4"/>
<line x1="629.10" y1="591.78" x2="633.60" y2="591.78" stroke="#262626" stroke-width="1.4"/>
<line x1="629.10" y1="642.54" x2="633.60" y2="642.54" stroke="#262626" stroke-width="1.4"/>
<line x1="629.10" y1="693.30" x2="633.60" y2="693.30" stroke="#262626" stroke-width="1.4"/>
<line x1="106.87" y1="693.30" x2="106.87" y2="688.80" stroke="#262626" stroke-width="1.4"/>
<line x1="157.03" y1="693.30" x2="157.03" y2="688.80" stroke="#262626" stroke-width="1.4"/>
<line x1="207.20" y1="693.30" x2="207.20" y2="688.80" stroke="#262626" stroke-width="1.4"/>
<line x1="257.36" y1="693.30" x2="257.36" y2="688.80" stroke="#262626" stroke-width="1.4"/>
<line x1="307.53" y1="693.30" x2="307.53" y2="688.80" stroke="#262626" stroke-width="1.4"/>
<line x1="357.69" y1="693.30" x2="357.69" y2="688.80" stroke="#262626" stroke-width="1.4"/>
<line x1="407.86" y1="693.30" x2="407.86" y2="688.80" stroke="#262626" stroke-width="1.4"/>
<line x1="458.02" y1="693.30" x2="458.02" y2="688.80" stroke="#262626" stroke-width="1.4"/>
<line x1="508.19" y1="693.30" x2="508.19" y2="688.80" stroke="#262626" stroke-width="1.4"/>
<line x1="558.35" y1="693.30" x2="558.35" y2="688.80" stroke="#262626" stroke-width="1.4"/>
<line x1="608.52" y1="693.30" x2="608.52" y2="688.80" stroke="#262626" stroke-width="1.4"/>
<text x="21.86" y="443.98" font-family='"Liberation Sans", sans-serif' font-weight="normal" font-size="12.5" fill="#333333" stroke="#333333" stroke-width="0.45">400</text>
<text x="21.86" y="494.74" font-family='"Liberation Sans", sans-serif' font-weight="normal" font-size="12.5" fill="#333333" stroke="#333333" stroke-width="0.45">350</text>
<text x="21.86" y="545.50" font-family='"Liberation Sans", sans-serif' font-weight="normal" font-size="12.5" fill="#333333" stroke="#333333" stroke-width="0.45">300</text>
<text x="21.86" y="596.25" font-family='"Liberation Sans", sans-serif' font-weight="normal" font-size="12.5" fill="#333333" stroke="#333333" stroke-width="0.45">250</text>
<text x="21.86" y="647.01" font-family='"Liberation Sans", sans-serif' font-weight="normal" font-size="12.5" fill="#333333" stroke="#333333" stroke-width="0.45">200</text>
<text x="21.86" y="697.77" font-family='"Liberation Sans", sans-serif' font-weight="normal" font-size="12.5" fill="#333333" stroke="#333333" stroke-width="0.45">150</text>
<text x="647.12" y="443.98" font-family='"Liberation Sans", sans-serif' font-weight="normal" font-size="12.5" fill="#333333" stroke="#333333" stroke-width="0.45">37</text>
<text x="647.12" y="494.74" font-family='"Liberation Sans", sans-serif' font-weight="normal" font-size="12.5" fill="#333333" stroke="#333333" stroke-width="0.45">32</text>
<text x="647.00" y="545.50" font-family='"Liberation Sans", sans-serif' font-weight="normal" font-size="12.5" fill="#333333" stroke="#333333" stroke-width="0.45">27</text>
<text x="647.00" y="596.25" font-family='"Liberation Sans", sans-serif' font-weight="normal" font-size="12.5" fill="#333333" stroke="#333333" stroke-width="0.45">22</text>
<text x="646.69" y="647.01" font-family='"Liberation Sans", sans-serif' font-weight="normal" font-size="12.5" fill="#333333" stroke="#333333" stroke-width="0.45">17</text>
<text x="646.69" y="697.77" font-family='"Liberation Sans", sans-serif' font-weight="normal" font-size="12.5" fill="#333333" stroke="#333333" stroke-width="0.45">12</text>
<text x="49.76" y="715.68" font-family='"Liberation Sans", sans-serif' font-weight="normal" font-size="12.5" fill="#333333" stroke="#333333" stroke-width="0.45">30</text>
<text x="99.93" y="715.68" font-family='"Liberation Sans", sans-serif' font-weight="normal" font-size="12.5" fill="#333333" stroke="#333333" stroke-width="0.45">50</text>
<text x="150.03" y="715.68" font-family='"Liberation Sans", sans-serif' font-weight="normal" font-size="12.5" fill="#333333" stroke="#333333" stroke-width="0.45">70</text>
<text x="200.23" y="715.68" font-family='"Liberation Sans", sans-serif' font-weight="normal" font-size="12.5" fill="#333333" stroke="#333333" stroke-width="0.45">90</text>
<text x="247.17" y="715.68" font-family='"Liberation Sans", sans-serif' font-weight="normal" font-size="12.5" fill="#333333" stroke="#333333" stroke-width="0.45">110</text>
<text x="296.90" y="715.68" font-family='"Liberation Sans", sans-serif' font-weight="normal" font-size="12.5" fill="#333333" stroke="#333333" stroke-width="0.45">130</text>
<text x="347.07" y="715.68" font-family='"Liberation Sans", sans-serif' font-weight="normal" font-size="12.5" fill="#333333" stroke="#333333" stroke-width="0.45">150</text>
<text x="397.23" y="715.68" font-family='"Liberation Sans", sans-serif' font-weight="normal" font-size="12.5" fill="#333333" stroke="#333333" stroke-width="0.45">170</text>
<text x="447.40" y="715.68" font-family='"Liberation Sans", sans-serif' font-weight="normal" font-size="12.5" fill="#333333" stroke="#333333" stroke-width="0.45">190</text>
<text x="497.72" y="715.68" font-family='"Liberation Sans", sans-serif' font-weight="normal" font-size="12.5" fill="#333333" stroke="#333333" stroke-width="0.45">210</text>
<text x="547.88" y="715.68" font-family='"Liberation Sans", sans-serif' font-weight="normal" font-size="12.5" fill="#333333" stroke="#333333" stroke-width="0.45">230</text>
<text x="598.05" y="715.68" font-family='"Liberation Sans", sans-serif' font-weight="normal" font-size="12.5" fill="#333333" stroke="#333333" stroke-width="0.45">250</text>
<text x="257.65" y="739.50" font-family='"Liberation Sans", sans-serif' font-weight="normal" font-size="13.8" fill="#333333" stroke="#333333" stroke-width="0.6" textLength="190.14" lengthAdjust="spacingAndGlyphs">HTF Inlet Temperature (<tspan font-size="8.56" dy="-5.11">˚</tspan><tspan dy="5.11">C )</tspan></text>
<text transform="translate(12.90,659.95) rotate(-90)" x="0" y="0" font-family='"Liberation Sans", sans-serif' font-weight="normal" font-size="13.8" fill="#333333" stroke="#333333" stroke-width="0.6" textLength="185.76" lengthAdjust="spacingAndGlyphs">HTF Outlet Temperature (<tspan font-size="8.56" dy="-5.11">˚</tspan><tspan dy="5.11">C )</tspan></text>
<text transform="translate(682.10,662.72) rotate(-90)" x="0" y="0" font-family='"Liberation Sans", sans-serif' font-weight="normal" font-size="13.8" fill="#333333" stroke="#333333" stroke-width="0.6" textLength="191.81" lengthAdjust="spacingAndGlyphs">Receiver Exergy Efficiency (%)</text>
<line x1="42.30" y1="758.00" x2="66.90" y2="758.00" stroke="#4472C4" stroke-width="2"/>
<circle cx="54.50" cy="758.00" r="3.4" fill="#4472C4"/>
<text x="68.99" y="762.83" font-family='"Liberation Sans", sans-serif' font-weight="normal" font-size="13.5" fill="#333333" stroke="#333333" stroke-width="0.7" textLength="245.94" lengthAdjust="spacingAndGlyphs">HTF Outlet Temperature m = 100%</text>
<line x1="348.80" y1="758.00" x2="373.70" y2="758.00" stroke="#ED7D31" stroke-width="2"/>
<circle cx="361.00" cy="758.00" r="3.4" fill="#ED7D31"/>
<text x="376.08" y="762.83" font-family='"Liberation Sans", sans-serif' font-weight="normal" font-size="13.5" fill="#333333" stroke="#333333" stroke-width="0.7" textLength="229.12" lengthAdjust="spacingAndGlyphs">HTF Outlet Temperature m=70%</text>
<line x1="42.30" y1="779.40" x2="66.90" y2="779.40" stroke="#A5A5A5" stroke-width="2"/>
<circle cx="54.50" cy="779.40" r="3.4" fill="#A5A5A5"/>
<text x="68.99" y="784.23" font-family='"Liberation Sans", sans-serif' font-weight="normal" font-size="13.5" fill="#333333" stroke="#333333" stroke-width="0.7" textLength="236.92" lengthAdjust="spacingAndGlyphs">HTF Outlet Temperature m = 50%</text>
<line x1="348.80" y1="779.40" x2="373.70" y2="779.40" stroke="#FFC000" stroke-width="2"/>
<circle cx="361.00" cy="779.40" r="3.4" fill="#FFC000"/>
<text x="376.12" y="784.23" font-family='"Liberation Sans", sans-serif' font-weight="normal" font-size="13.5" fill="#333333" stroke="#333333" stroke-width="0.7" textLength="256.34" lengthAdjust="spacingAndGlyphs">Receiver Exergy Efficiency m = 100%</text>
<line x1="42.30" y1="800.50" x2="66.90" y2="800.50" stroke="#5B9BD5" stroke-width="2"/>
<circle cx="54.50" cy="800.50" r="3.4" fill="#5B9BD5"/>
<text x="69.02" y="805.33" font-family='"Liberation Sans", sans-serif' font-weight="normal" font-size="13.5" fill="#333333" stroke="#333333" stroke-width="0.7" textLength="239.72" lengthAdjust="spacingAndGlyphs">Receiver Exergy Efficiency m=70%</text>
<line x1="348.80" y1="800.50" x2="373.70" y2="800.50" stroke="#70AD47" stroke-width="2"/>
<circle cx="361.00" cy="800.50" r="3.4" fill="#70AD47"/>
<text x="376.12" y="805.33" font-family='"Liberation Sans", sans-serif' font-weight="normal" font-size="13.5" fill="#333333" stroke="#333333" stroke-width="0.7" textLength="247.52" lengthAdjust="spacingAndGlyphs">Receiver Exergy Efficiency m = 50%</text>
<text x="15.29" y="826.40" font-family='"Liberation Serif", serif' font-weight="bold" font-size="19.5" fill="#000" textLength="24.77" lengthAdjust="spacingAndGlyphs">(b)</text>
<line x1="58.10" y1="871.00" x2="626.00" y2="871.00" stroke="#d9d9d9" stroke-width="1.3" stroke-dasharray="5.0,3.4" stroke-dashoffset="0.6"/>
<line x1="58.10" y1="905.13" x2="626.00" y2="905.13" stroke="#d9d9d9" stroke-width="1.3" stroke-dasharray="5.0,3.4" stroke-dashoffset="0.6"/>
<line x1="58.10" y1="939.26" x2="626.00" y2="939.26" stroke="#d9d9d9" stroke-width="1.3" stroke-dasharray="5.0,3.4" stroke-dashoffset="0.6"/>
<line x1="58.10" y1="973.39" x2="626.00" y2="973.39" stroke="#d9d9d9" stroke-width="1.3" stroke-dasharray="5.0,3.4" stroke-dashoffset="0.6"/>
<line x1="58.10" y1="1007.51" x2="626.00" y2="1007.51" stroke="#d9d9d9" stroke-width="1.3" stroke-dasharray="5.0,3.4" stroke-dashoffset="0.6"/>
<line x1="58.10" y1="1041.64" x2="626.00" y2="1041.64" stroke="#d9d9d9" stroke-width="1.3" stroke-dasharray="5.0,3.4" stroke-dashoffset="0.6"/>
<line x1="58.10" y1="1075.77" x2="626.00" y2="1075.77" stroke="#d9d9d9" stroke-width="1.3" stroke-dasharray="5.0,3.4" stroke-dashoffset="0.6"/>
<line x1="107.48" y1="871.00" x2="107.48" y2="1109.90" stroke="#d9d9d9" stroke-width="1.3" stroke-dasharray="4.8,3.4"/>
<line x1="156.87" y1="871.00" x2="156.87" y2="1109.90" stroke="#d9d9d9" stroke-width="1.3" stroke-dasharray="4.8,3.4"/>
<line x1="206.25" y1="871.00" x2="206.25" y2="1109.90" stroke="#d9d9d9" stroke-width="1.3" stroke-dasharray="4.8,3.4"/>
<line x1="255.63" y1="871.00" x2="255.63" y2="1109.90" stroke="#d9d9d9" stroke-width="1.3" stroke-dasharray="4.8,3.4"/>
<line x1="305.01" y1="871.00" x2="305.01" y2="1109.90" stroke="#d9d9d9" stroke-width="1.3" stroke-dasharray="4.8,3.4"/>
<line x1="354.40" y1="871.00" x2="354.40" y2="1109.90" stroke="#d9d9d9" stroke-width="1.3" stroke-dasharray="4.8,3.4"/>
<line x1="403.78" y1="871.00" x2="403.78" y2="1109.90" stroke="#d9d9d9" stroke-width="1.3" stroke-dasharray="4.8,3.4"/>
<line x1="453.16" y1="871.00" x2="453.16" y2="1109.90" stroke="#d9d9d9" stroke-width="1.3" stroke-dasharray="4.8,3.4"/>
<line x1="502.54" y1="871.00" x2="502.54" y2="1109.90" stroke="#d9d9d9" stroke-width="1.3" stroke-dasharray="4.8,3.4"/>
<line x1="551.93" y1="871.00" x2="551.93" y2="1109.90" stroke="#d9d9d9" stroke-width="1.3" stroke-dasharray="4.8,3.4"/>
<line x1="601.31" y1="871.00" x2="601.31" y2="1109.90" stroke="#d9d9d9" stroke-width="1.3" stroke-dasharray="4.8,3.4"/>
<polyline points="82.79,904.36 107.48,909.23 132.17,914.40 156.87,919.43 181.56,924.56 206.25,929.74 230.94,934.63 255.63,939.67 280.32,944.86 305.01,950.16 329.70,955.06 354.40,960.01 379.09,965.17 403.78,970.23 428.47,975.29 453.16,980.61 477.85,985.83 502.54,991.15 527.23,996.08 551.93,1001.01 576.62,1006.39 601.31,1011.63" fill="none" stroke="#4472C4" stroke-width="2" stroke-linejoin="round"/>
<circle cx="82.79" cy="904.36" r="3.4" fill="#4472C4"/>
<circle cx="107.48" cy="909.23" r="3.4" fill="#4472C4"/>
<circle cx="132.17" cy="914.40" r="3.4" fill="#4472C4"/>
<circle cx="156.87" cy="919.43" r="3.4" fill="#4472C4"/>
<circle cx="181.56" cy="924.56" r="3.4" fill="#4472C4"/>
<circle cx="206.25" cy="929.74" r="3.4" fill="#4472C4"/>
<circle cx="230.94" cy="934.63" r="3.4" fill="#4472C4"/>
<circle cx="255.63" cy="939.67" r="3.4" fill="#4472C4"/>
<circle cx="280.32" cy="944.86" r="3.4" fill="#4472C4"/>
<circle cx="305.01" cy="950.16" r="3.4" fill="#4472C4"/>
<circle cx="329.70" cy="955.06" r="3.4" fill="#4472C4"/>
<circle cx="354.40" cy="960.01" r="3.4" fill="#4472C4"/>
<circle cx="379.09" cy="965.17" r="3.4" fill="#4472C4"/>
<circle cx="403.78" cy="970.23" r="3.4" fill="#4472C4"/>
<circle cx="428.47" cy="975.29" r="3.4" fill="#4472C4"/>
<circle cx="453.16" cy="980.61" r="3.4" fill="#4472C4"/>
<circle cx="477.85" cy="985.83" r="3.4" fill="#4472C4"/>
<circle cx="502.54" cy="991.15" r="3.4" fill="#4472C4"/>
<circle cx="527.23" cy="996.08" r="3.4" fill="#4472C4"/>
<circle cx="551.93" cy="1001.01" r="3.4" fill="#4472C4"/>
<circle cx="576.62" cy="1006.39" r="3.4" fill="#4472C4"/>
<circle cx="601.31" cy="1011.63" r="3.4" fill="#4472C4"/>
<polyline points="82.79,974.01 107.48,978.10 132.17,981.74 156.87,985.83 181.56,989.43 206.25,993.07 230.94,996.76 255.63,1000.76 280.32,1004.50 305.01,1008.40 329.70,1012.10 354.40,1015.84 379.09,1019.84 403.78,1023.44 428.47,1027.04 453.16,1031.09 477.85,1034.79 502.54,1038.79 527.23,1042.54 551.93,1046.14 576.62,1050.14 601.31,1053.95" fill="none" stroke="#ED7D31" stroke-width="2" stroke-linejoin="round"/>
<circle cx="82.79" cy="974.01" r="3.4" fill="#ED7D31"/>
<circle cx="107.48" cy="978.10" r="3.4" fill="#ED7D31"/>
<circle cx="132.17" cy="981.74" r="3.4" fill="#ED7D31"/>
<circle cx="156.87" cy="985.83" r="3.4" fill="#ED7D31"/>
<circle cx="181.56" cy="989.43" r="3.4" fill="#ED7D31"/>
<circle cx="206.25" cy="993.07" r="3.4" fill="#ED7D31"/>
<circle cx="230.94" cy="996.76" r="3.4" fill="#ED7D31"/>
<circle cx="255.63" cy="1000.76" r="3.4" fill="#ED7D31"/>
<circle cx="280.32" cy="1004.50" r="3.4" fill="#ED7D31"/>
<circle cx="305.01" cy="1008.40" r="3.4" fill="#ED7D31"/>
<circle cx="329.70" cy="1012.10" r="3.4" fill="#ED7D31"/>
<circle cx="354.40" cy="1015.84" r="3.4" fill="#ED7D31"/>
<circle cx="379.09" cy="1019.84" r="3.4" fill="#ED7D31"/>
<circle cx="403.78" cy="1023.44" r="3.4" fill="#ED7D31"/>
<circle cx="428.47" cy="1027.04" r="3.4" fill="#ED7D31"/>
<circle cx="453.16" cy="1031.09" r="3.4" fill="#ED7D31"/>
<circle cx="477.85" cy="1034.79" r="3.4" fill="#ED7D31"/>
<circle cx="502.54" cy="1038.79" r="3.4" fill="#ED7D31"/>
<circle cx="527.23" cy="1042.54" r="3.4" fill="#ED7D31"/>
<circle cx="551.93" cy="1046.14" r="3.4" fill="#ED7D31"/>
<circle cx="576.62" cy="1050.14" r="3.4" fill="#ED7D31"/>
<circle cx="601.31" cy="1053.95" r="3.4" fill="#ED7D31"/>
<polyline points="82.79,1023.97 107.48,1026.84 132.17,1029.56 156.87,1032.44 181.56,1035.31 206.25,1038.29 230.94,1040.91 255.63,1043.79 280.32,1046.67 305.01,1049.65 329.70,1052.53 354.40,1055.42 379.09,1058.30 403.78,1061.04 428.47,1063.92 453.16,1066.81 477.85,1069.70 502.54,1072.69 527.23,1075.33 551.93,1078.23 576.62,1081.32 601.31,1084.16" fill="none" stroke="#A5A5A5" stroke-width="2" stroke-linejoin="round"/>
<circle cx="82.79" cy="1023.97" r="3.4" fill="#A5A5A5"/>
<circle cx="107.48" cy="1026.84" r="3.4" fill="#A5A5A5"/>
<circle cx="132.17" cy="1029.56" r="3.4" fill="#A5A5A5"/>
<circle cx="156.87" cy="1032.44" r="3.4" fill="#A5A5A5"/>
<circle cx="181.56" cy="1035.31" r="3.4" fill="#A5A5A5"/>
<circle cx="206.25" cy="1038.29" r="3.4" fill="#A5A5A5"/>
<circle cx="230.94" cy="1040.91" r="3.4" fill="#A5A5A5"/>
<circle cx="255.63" cy="1043.79" r="3.4" fill="#A5A5A5"/>
<circle cx="280.32" cy="1046.67" r="3.4" fill="#A5A5A5"/>
<circle cx="305.01" cy="1049.65" r="3.4" fill="#A5A5A5"/>
<circle cx="329.70" cy="1052.53" r="3.4" fill="#A5A5A5"/>
<circle cx="354.40" cy="1055.42" r="3.4" fill="#A5A5A5"/>
<circle cx="379.09" cy="1058.30" r="3.4" fill="#A5A5A5"/>
<circle cx="403.78" cy="1061.04" r="3.4" fill="#A5A5A5"/>
<circle cx="428.47" cy="1063.92" r="3.4" fill="#A5A5A5"/>
<circle cx="453.16" cy="1066.81" r="3.4" fill="#A5A5A5"/>
<circle cx="477.85" cy="1069.70" r="3.4" fill="#A5A5A5"/>
<circle cx="502.54" cy="1072.69" r="3.4" fill="#A5A5A5"/>
<circle cx="527.23" cy="1075.33" r="3.4" fill="#A5A5A5"/>
<circle cx="551.93" cy="1078.23" r="3.4" fill="#A5A5A5"/>
<circle cx="576.62" cy="1081.32" r="3.4" fill="#A5A5A5"/>
<circle cx="601.31" cy="1084.16" r="3.4" fill="#A5A5A5"/>
<polyline points="82.79,1008.66 107.48,994.30 132.17,981.27 156.87,970.03 181.56,959.82 206.25,950.81 230.94,942.65 255.63,935.91 280.32,929.96 305.01,925.23 329.70,920.98 354.40,917.60 379.09,915.32 403.78,913.42 428.47,912.42 453.16,912.27 477.85,912.69 502.54,913.71 527.23,914.96 551.93,916.91 576.62,919.39 601.31,922.42" fill="none" stroke="#FFC000" stroke-width="2" stroke-linejoin="round"/>
<circle cx="82.79" cy="1008.66" r="3.4" fill="#FFC000"/>
<circle cx="107.48" cy="994.30" r="3.4" fill="#FFC000"/>
<circle cx="132.17" cy="981.27" r="3.4" fill="#FFC000"/>
<circle cx="156.87" cy="970.03" r="3.4" fill="#FFC000"/>
<circle cx="181.56" cy="959.82" r="3.4" fill="#FFC000"/>
<circle cx="206.25" cy="950.81" r="3.4" fill="#FFC000"/>
<circle cx="230.94" cy="942.65" r="3.4" fill="#FFC000"/>
<circle cx="255.63" cy="935.91" r="3.4" fill="#FFC000"/>
<circle cx="280.32" cy="929.96" r="3.4" fill="#FFC000"/>
<circle cx="305.01" cy="925.23" r="3.4" fill="#FFC000"/>
<circle cx="329.70" cy="920.98" r="3.4" fill="#FFC000"/>
<circle cx="354.40" cy="917.60" r="3.4" fill="#FFC000"/>
<circle cx="379.09" cy="915.32" r="3.4" fill="#FFC000"/>
<circle cx="403.78" cy="913.42" r="3.4" fill="#FFC000"/>
<circle cx="428.47" cy="912.42" r="3.4" fill="#FFC000"/>
<circle cx="453.16" cy="912.27" r="3.4" fill="#FFC000"/>
<circle cx="477.85" cy="912.69" r="3.4" fill="#FFC000"/>
<circle cx="502.54" cy="913.71" r="3.4" fill="#FFC000"/>
<circle cx="527.23" cy="914.96" r="3.4" fill="#FFC000"/>
<circle cx="551.93" cy="916.91" r="3.4" fill="#FFC000"/>
<circle cx="576.62" cy="919.39" r="3.4" fill="#FFC000"/>
<circle cx="601.31" cy="922.42" r="3.4" fill="#FFC000"/>
<polyline points="82.79,1048.45 107.48,1038.38 132.17,1029.39 156.87,1021.13 181.56,1013.98 206.25,1007.50 230.94,1001.96 255.63,997.20 280.32,993.13 305.01,989.55 329.70,986.73 354.40,984.66 379.09,983.04 403.78,981.73 428.47,981.04 453.16,980.85 477.85,981.59 502.54,982.36 527.23,983.69 551.93,985.26 576.62,987.11 601.31,989.57" fill="none" stroke="#5B9BD5" stroke-width="2" stroke-linejoin="round"/>
<circle cx="82.79" cy="1048.45" r="3.4" fill="#5B9BD5"/>
<circle cx="107.48" cy="1038.38" r="3.4" fill="#5B9BD5"/>
<circle cx="132.17" cy="1029.39" r="3.4" fill="#5B9BD5"/>
<circle cx="156.87" cy="1021.13" r="3.4" fill="#5B9BD5"/>
<circle cx="181.56" cy="1013.98" r="3.4" fill="#5B9BD5"/>
<circle cx="206.25" cy="1007.50" r="3.4" fill="#5B9BD5"/>
<circle cx="230.94" cy="1001.96" r="3.4" fill="#5B9BD5"/>
<circle cx="255.63" cy="997.20" r="3.4" fill="#5B9BD5"/>
<circle cx="280.32" cy="993.13" r="3.4" fill="#5B9BD5"/>
<circle cx="305.01" cy="989.55" r="3.4" fill="#5B9BD5"/>
<circle cx="329.70" cy="986.73" r="3.4" fill="#5B9BD5"/>
<circle cx="354.40" cy="984.66" r="3.4" fill="#5B9BD5"/>
<circle cx="379.09" cy="983.04" r="3.4" fill="#5B9BD5"/>
<circle cx="403.78" cy="981.73" r="3.4" fill="#5B9BD5"/>
<circle cx="428.47" cy="981.04" r="3.4" fill="#5B9BD5"/>
<circle cx="453.16" cy="980.85" r="3.4" fill="#5B9BD5"/>
<circle cx="477.85" cy="981.59" r="3.4" fill="#5B9BD5"/>
<circle cx="502.54" cy="982.36" r="3.4" fill="#5B9BD5"/>
<circle cx="527.23" cy="983.69" r="3.4" fill="#5B9BD5"/>
<circle cx="551.93" cy="985.26" r="3.4" fill="#5B9BD5"/>
<circle cx="576.62" cy="987.11" r="3.4" fill="#5B9BD5"/>
<circle cx="601.31" cy="989.57" r="3.4" fill="#5B9BD5"/>
<polyline points="82.79,1077.83 107.48,1070.97 132.17,1064.61 156.87,1058.64 181.56,1053.26 206.25,1048.83 230.94,1044.69 255.63,1041.24 280.32,1038.17 305.01,1035.92 329.70,1033.90 354.40,1032.52 379.09,1031.35 403.78,1030.62 428.47,1030.37 453.16,1030.49 477.85,1030.97 502.54,1031.56 527.23,1032.46 551.93,1033.95 576.62,1035.53 601.31,1037.94" fill="none" stroke="#70AD47" stroke-width="2" stroke-linejoin="round"/>
<circle cx="82.79" cy="1077.83" r="3.4" fill="#70AD47"/>
<circle cx="107.48" cy="1070.97" r="3.4" fill="#70AD47"/>
<circle cx="132.17" cy="1064.61" r="3.4" fill="#70AD47"/>
<circle cx="156.87" cy="1058.64" r="3.4" fill="#70AD47"/>
<circle cx="181.56" cy="1053.26" r="3.4" fill="#70AD47"/>
<circle cx="206.25" cy="1048.83" r="3.4" fill="#70AD47"/>
<circle cx="230.94" cy="1044.69" r="3.4" fill="#70AD47"/>
<circle cx="255.63" cy="1041.24" r="3.4" fill="#70AD47"/>
<circle cx="280.32" cy="1038.17" r="3.4" fill="#70AD47"/>
<circle cx="305.01" cy="1035.92" r="3.4" fill="#70AD47"/>
<circle cx="329.70" cy="1033.90" r="3.4" fill="#70AD47"/>
<circle cx="354.40" cy="1032.52" r="3.4" fill="#70AD47"/>
<circle cx="379.09" cy="1031.35" r="3.4" fill="#70AD47"/>
<circle cx="403.78" cy="1030.62" r="3.4" fill="#70AD47"/>
<circle cx="428.47" cy="1030.37" r="3.4" fill="#70AD47"/>
<circle cx="453.16" cy="1030.49" r="3.4" fill="#70AD47"/>
<circle cx="477.85" cy="1030.97" r="3.4" fill="#70AD47"/>
<circle cx="502.54" cy="1031.56" r="3.4" fill="#70AD47"/>
<circle cx="527.23" cy="1032.46" r="3.4" fill="#70AD47"/>
<circle cx="551.93" cy="1033.95" r="3.4" fill="#70AD47"/>
<circle cx="576.62" cy="1035.53" r="3.4" fill="#70AD47"/>
<circle cx="601.31" cy="1037.94" r="3.4" fill="#70AD47"/>
<path d="M58.10,871.00V1109.90H626.00V871.00" fill="none" stroke="#262626" stroke-width="1.4"/>
<line x1="58.10" y1="871.00" x2="62.60" y2="871.00" stroke="#262626" stroke-width="1.4"/>
<line x1="58.10" y1="905.13" x2="62.60" y2="905.13" stroke="#262626" stroke-width="1.4"/>
<line x1="58.10" y1="939.26" x2="62.60" y2="939.26" stroke="#262626" stroke-width="1.4"/>
<line x1="58.10" y1="973.39" x2="62.60" y2="973.39" stroke="#262626" stroke-width="1.4"/>
<line x1="58.10" y1="1007.51" x2="62.60" y2="1007.51" stroke="#262626" stroke-width="1.4"/>
<line x1="58.10" y1="1041.64" x2="62.60" y2="1041.64" stroke="#262626" stroke-width="1.4"/>
<line x1="58.10" y1="1075.77" x2="62.60" y2="1075.77" stroke="#262626" stroke-width="1.4"/>
<line x1="58.10" y1="1109.90" x2="62.60" y2="1109.90" stroke="#262626" stroke-width="1.4"/>
<line x1="621.50" y1="871.00" x2="626.00" y2="871.00" stroke="#262626" stroke-width="1.4"/>
<line x1="621.50" y1="910.82" x2="626.00" y2="910.82" stroke="#262626" stroke-width="1.4"/>
<line x1="621.50" y1="950.63" x2="626.00" y2="950.63" stroke="#262626" stroke-width="1.4"/>
<line x1="621.50" y1="990.45" x2="626.00" y2="990.45" stroke="#262626" stroke-width="1.4"/>
<line x1="621.50" y1="1030.27" x2="626.00" y2="1030.27" stroke="#262626" stroke-width="1.4"/>
<line x1="621.50" y1="1070.08" x2="626.00" y2="1070.08" stroke="#262626" stroke-width="1.4"/>
<line x1="621.50" y1="1109.90" x2="626.00" y2="1109.90" stroke="#262626" stroke-width="1.4"/>
<line x1="107.48" y1="1109.90" x2="107.48" y2="1105.40" stroke="#262626" stroke-width="1.4"/>
<line x1="156.87" y1="1109.90" x2="156.87" y2="1105.40" stroke="#262626" stroke-width="1.4"/>
<line x1="206.25" y1="1109.90" x2="206.25" y2="1105.40" stroke="#262626" stroke-width="1.4"/>
<line x1="255.63" y1="1109.90" x2="255.63" y2="1105.40" stroke="#262626" stroke-width="1.4"/>
<line x1="305.01" y1="1109.90" x2="305.01" y2="1105.40" stroke="#262626" stroke-width="1.4"/>
<line x1="354.40" y1="1109.90" x2="354.40" y2="1105.40" stroke="#262626" stroke-width="1.4"/>
<line x1="403.78" y1="1109.90" x2="403.78" y2="1105.40" stroke="#262626" stroke-width="1.4"/>
<line x1="453.16" y1="1109.90" x2="453.16" y2="1105.40" stroke="#262626" stroke-width="1.4"/>
<line x1="502.54" y1="1109.90" x2="502.54" y2="1105.40" stroke="#262626" stroke-width="1.4"/>
<line x1="551.93" y1="1109.90" x2="551.93" y2="1105.40" stroke="#262626" stroke-width="1.4"/>
<line x1="601.31" y1="1109.90" x2="601.31" y2="1105.40" stroke="#262626" stroke-width="1.4"/>
<text x="29.25" y="875.73" font-family='"Liberation Sans", sans-serif' font-weight="normal" font-size="13.2" fill="#333333" stroke="#333333" stroke-width="0.45">90</text>
<text x="29.25" y="909.85" font-family='"Liberation Sans", sans-serif' font-weight="normal" font-size="13.2" fill="#333333" stroke="#333333" stroke-width="0.45">80</text>
<text x="29.25" y="943.98" font-family='"Liberation Sans", sans-serif' font-weight="normal" font-size="13.2" fill="#333333" stroke="#333333" stroke-width="0.45">70</text>
<text x="29.25" y="978.11" font-family='"Liberation Sans", sans-serif' font-weight="normal" font-size="13.2" fill="#333333" stroke="#333333" stroke-width="0.45">60</text>
<text x="29.25" y="1012.24" font-family='"Liberation Sans", sans-serif' font-weight="normal" font-size="13.2" fill="#333333" stroke="#333333" stroke-width="0.45">50</text>
<text x="29.25" y="1046.37" font-family='"Liberation Sans", sans-serif' font-weight="normal" font-size="13.2" fill="#333333" stroke="#333333" stroke-width="0.45">40</text>
<text x="29.25" y="1080.50" font-family='"Liberation Sans", sans-serif' font-weight="normal" font-size="13.2" fill="#333333" stroke="#333333" stroke-width="0.45">30</text>
<text x="29.25" y="1114.63" font-family='"Liberation Sans", sans-serif' font-weight="normal" font-size="13.2" fill="#333333" stroke="#333333" stroke-width="0.45">20</text>
<text x="640.39" y="875.73" font-family='"Liberation Sans", sans-serif' font-weight="normal" font-size="13.2" fill="#333333" stroke="#333333" stroke-width="0.45">40</text>
<text x="640.20" y="915.54" font-family='"Liberation Sans", sans-serif' font-weight="normal" font-size="13.2" fill="#333333" stroke="#333333" stroke-width="0.45">35</text>
<text x="640.20" y="955.36" font-family='"Liberation Sans", sans-serif' font-weight="normal" font-size="13.2" fill="#333333" stroke="#333333" stroke-width="0.45">30</text>
<text x="640.07" y="995.18" font-family='"Liberation Sans", sans-serif' font-weight="normal" font-size="13.2" fill="#333333" stroke="#333333" stroke-width="0.45">25</text>
<text x="640.07" y="1034.99" font-family='"Liberation Sans", sans-serif' font-weight="normal" font-size="13.2" fill="#333333" stroke="#333333" stroke-width="0.45">20</text>
<text x="639.74" y="1074.81" font-family='"Liberation Sans", sans-serif' font-weight="normal" font-size="13.2" fill="#333333" stroke="#333333" stroke-width="0.45">15</text>
<text x="639.74" y="1114.63" font-family='"Liberation Sans", sans-serif' font-weight="normal" font-size="13.2" fill="#333333" stroke="#333333" stroke-width="0.45">10</text>
<text x="50.77" y="1133.93" font-family='"Liberation Sans", sans-serif' font-weight="normal" font-size="13.2" fill="#333333" stroke="#333333" stroke-width="0.45">30</text>
<text x="100.16" y="1133.93" font-family='"Liberation Sans", sans-serif' font-weight="normal" font-size="13.2" fill="#333333" stroke="#333333" stroke-width="0.45">50</text>
<text x="149.47" y="1133.93" font-family='"Liberation Sans", sans-serif' font-weight="normal" font-size="13.2" fill="#333333" stroke="#333333" stroke-width="0.45">70</text>
<text x="198.89" y="1133.93" font-family='"Liberation Sans", sans-serif' font-weight="normal" font-size="13.2" fill="#333333" stroke="#333333" stroke-width="0.45">90</text>
<text x="244.87" y="1133.93" font-family='"Liberation Sans", sans-serif' font-weight="normal" font-size="13.2" fill="#333333" stroke="#333333" stroke-width="0.45">110</text>
<text x="293.79" y="1133.93" font-family='"Liberation Sans", sans-serif' font-weight="normal" font-size="13.2" fill="#333333" stroke="#333333" stroke-width="0.45">130</text>
<text x="343.18" y="1133.93" font-family='"Liberation Sans", sans-serif' font-weight="normal" font-size="13.2" fill="#333333" stroke="#333333" stroke-width="0.45">150</text>
<text x="392.56" y="1133.93" font-family='"Liberation Sans", sans-serif' font-weight="normal" font-size="13.2" fill="#333333" stroke="#333333" stroke-width="0.45">170</text>
<text x="441.94" y="1133.93" font-family='"Liberation Sans", sans-serif' font-weight="normal" font-size="13.2" fill="#333333" stroke="#333333" stroke-width="0.45">190</text>
<text x="491.49" y="1133.93" font-family='"Liberation Sans", sans-serif' font-weight="normal" font-size="13.2" fill="#333333" stroke="#333333" stroke-width="0.45">210</text>
<text x="540.87" y="1133.93" font-family='"Liberation Sans", sans-serif' font-weight="normal" font-size="13.2" fill="#333333" stroke="#333333" stroke-width="0.45">230</text>
<text x="590.25" y="1133.93" font-family='"Liberation Sans", sans-serif' font-weight="normal" font-size="13.2" fill="#333333" stroke="#333333" stroke-width="0.45">250</text>
<text x="244.13" y="1157.00" font-family='"Liberation Sans", sans-serif' font-weight="normal" font-size="13.8" fill="#333333" stroke="#333333" stroke-width="0.6" textLength="192.06" lengthAdjust="spacingAndGlyphs">HTF Inlet Temperature (<tspan font-size="8.56" dy="-5.11">˚</tspan><tspan dy="5.11">C )</tspan></text>
<text transform="translate(20.10,1096.83) rotate(-90)" x="0" y="0" font-family='"Liberation Sans", sans-serif' font-weight="normal" font-size="13.8" fill="#333333" stroke="#333333" stroke-width="0.6" textLength="212.23" lengthAdjust="spacingAndGlyphs">Receiver Energy Efficiency (%)</text>
<text transform="translate(675.10,1096.33) rotate(-90)" x="0" y="0" font-family='"Liberation Sans", sans-serif' font-weight="normal" font-size="13.8" fill="#333333" stroke="#333333" stroke-width="0.6" textLength="210.80" lengthAdjust="spacingAndGlyphs">Receiver Exergy Efficiency (%)</text>
<line x1="44.10" y1="1180.70" x2="68.60" y2="1180.70" stroke="#4472C4" stroke-width="2"/>
<circle cx="56.35" cy="1180.70" r="3.4" fill="#4472C4"/>
<text x="71.20" y="1185.82" font-family='"Liberation Sans", sans-serif' font-weight="normal" font-size="14.3" fill="#333333" stroke="#333333" stroke-width="0.7" textLength="261.19" lengthAdjust="spacingAndGlyphs">Receiver Energy Efficiency m = 100%</text>
<line x1="358.60" y1="1180.70" x2="384.00" y2="1180.70" stroke="#ED7D31" stroke-width="2"/>
<circle cx="371.00" cy="1180.70" r="3.4" fill="#ED7D31"/>
<text x="385.40" y="1185.82" font-family='"Liberation Sans", sans-serif' font-weight="normal" font-size="14.3" fill="#333333" stroke="#333333" stroke-width="0.7" textLength="244.16" lengthAdjust="spacingAndGlyphs">Receiver Energy Efficiency m=70%</text>
<line x1="44.10" y1="1209.30" x2="68.60" y2="1209.30" stroke="#A5A5A5" stroke-width="2"/>
<circle cx="56.35" cy="1209.30" r="3.4" fill="#A5A5A5"/>
<text x="71.20" y="1214.42" font-family='"Liberation Sans", sans-serif' font-weight="normal" font-size="14.3" fill="#333333" stroke="#333333" stroke-width="0.7" textLength="251.87" lengthAdjust="spacingAndGlyphs">Receiver Energy Efficiency m = 50%</text>
<line x1="358.60" y1="1209.30" x2="384.00" y2="1209.30" stroke="#FFC000" stroke-width="2"/>
<circle cx="371.00" cy="1209.30" r="3.4" fill="#FFC000"/>
<text x="385.41" y="1214.42" font-family='"Liberation Sans", sans-serif' font-weight="normal" font-size="14.3" fill="#333333" stroke="#333333" stroke-width="0.7" textLength="259.56" lengthAdjust="spacingAndGlyphs">Receiver Exergy Efficiency m = 100%</text>
<line x1="44.10" y1="1237.80" x2="68.60" y2="1237.80" stroke="#5B9BD5" stroke-width="2"/>
<circle cx="56.35" cy="1237.80" r="3.4" fill="#5B9BD5"/>
<text x="71.20" y="1242.92" font-family='"Liberation Sans", sans-serif' font-weight="normal" font-size="14.3" fill="#333333" stroke="#333333" stroke-width="0.7" textLength="243.45" lengthAdjust="spacingAndGlyphs">Receiver Exergy Efficiency m=70%</text>
<line x1="358.60" y1="1237.80" x2="384.00" y2="1237.80" stroke="#70AD47" stroke-width="2"/>
<circle cx="371.00" cy="1237.80" r="3.4" fill="#70AD47"/>
<text x="385.41" y="1242.92" font-family='"Liberation Sans", sans-serif' font-weight="normal" font-size="14.3" fill="#333333" stroke="#333333" stroke-width="0.7" textLength="250.24" lengthAdjust="spacingAndGlyphs">Receiver Exergy Efficiency m = 50%</text>
<text x="15.59" y="1261.50" font-family='"Liberation Serif", serif' font-weight="bold" font-size="19" fill="#000" textLength="22.52" lengthAdjust="spacingAndGlyphs">(c)</text>
</svg>
</body></html>
